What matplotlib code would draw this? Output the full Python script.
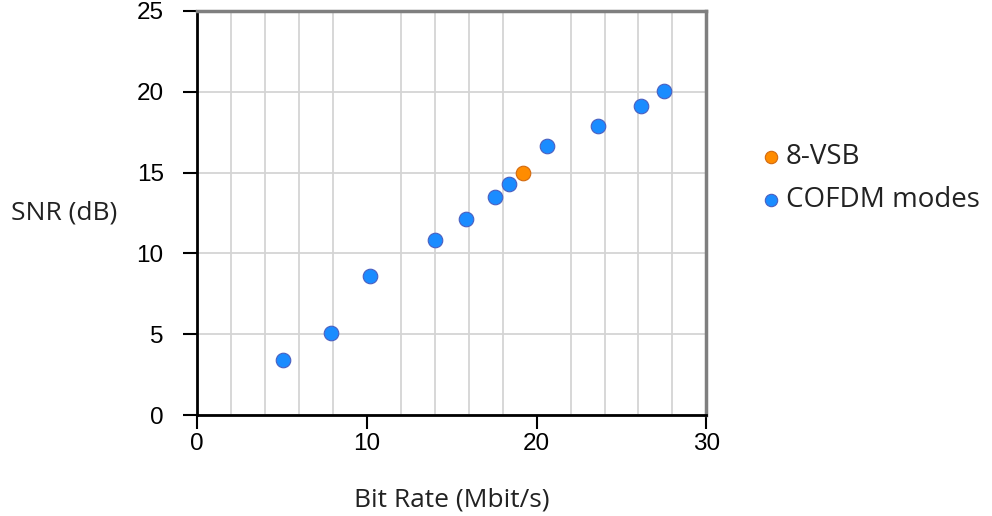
import numpy as np
import matplotlib.pyplot as plt

# Data
vsb_rate = [19.2]
vsb_snr = [15.0]
cofdm_rate = [5.05, 7.9, 10.2, 14.0, 15.85, 17.55, 18.35, 20.6, 23.6, 26.15, 27.5]
cofdm_snr = [3.4, 5.05, 8.6, 10.85, 12.15, 13.5, 14.3, 16.65, 17.9, 19.15, 20.05]

x_ticks = [0, 10, 20, 30]
y_ticks = [0, 5, 10, 15, 20, 25]

label_font = 'Open Sans'

fig = plt.figure(figsize=(9.92, 5.16), dpi=100)
ax = fig.add_axes([0.1986, 0.1957, 0.7121 - 0.1986, 0.9787 - 0.1957])

ax.scatter(vsb_rate, vsb_snr, s=110, color='#ff8c00', edgecolor='#d26a10',
           linewidth=0.8, zorder=5, label='8-VSB')
ax.scatter(cofdm_rate, cofdm_snr, s=110, color='#1a8cff', edgecolor='#4a5fc0',
           linewidth=0.8, zorder=5, label='COFDM modes')

ax.set_xlim(0, 30)
ax.set_ylim(0, 25)
ax.set_xticks(x_ticks)
ax.set_yticks(y_ticks)
ax.set_xticks(np.arange(2, 30, 2), minor=True)
ax.tick_params(axis='x', which='minor', length=0)
ax.tick_params(axis='both', which='major', length=10, width=1.5, color='black',
               labelsize=17.5, direction='out')
ax.tick_params(axis='y', pad=14)
ax.tick_params(axis='x', pad=3)
for lbl in ax.get_xticklabels() + ax.get_yticklabels():
    lbl.set_family('Liberation Sans')

ax.grid(True, which='minor', axis='x', color='#d4d4d4', linewidth=1.3)
ax.grid(True, which='major', axis='y', color='#d4d4d4', linewidth=1.3)
ax.set_axisbelow(True)

for side in ['left', 'bottom']:
    ax.spines[side].set_color('black')
    ax.spines[side].set_linewidth(2)
for side in ['top', 'right']:
    ax.spines[side].set_color('#7f7f7f')
    ax.spines[side].set_linewidth(2.5)

ax.set_xlabel('Bit Rate (Mbit/s)', fontsize=19, family=label_font, labelpad=23,
              color='#222222')
ax.set_ylabel('SNR (dB)', fontsize=19, family=label_font, rotation=0,
              color='#222222', va='center')
ax.yaxis.set_label_coords(-0.26, 0.5)

ax.legend(loc='center left', bbox_to_anchor=(1.11, 0.585), frameon=False,
          prop={'family': label_font, 'size': 20}, handlelength=0.6,
          handletextpad=0.25, markerscale=0.85, labelspacing=0.55,
          labelcolor='#222222', borderpad=0, borderaxespad=0)

plt.savefig('out.png', dpi=100)
